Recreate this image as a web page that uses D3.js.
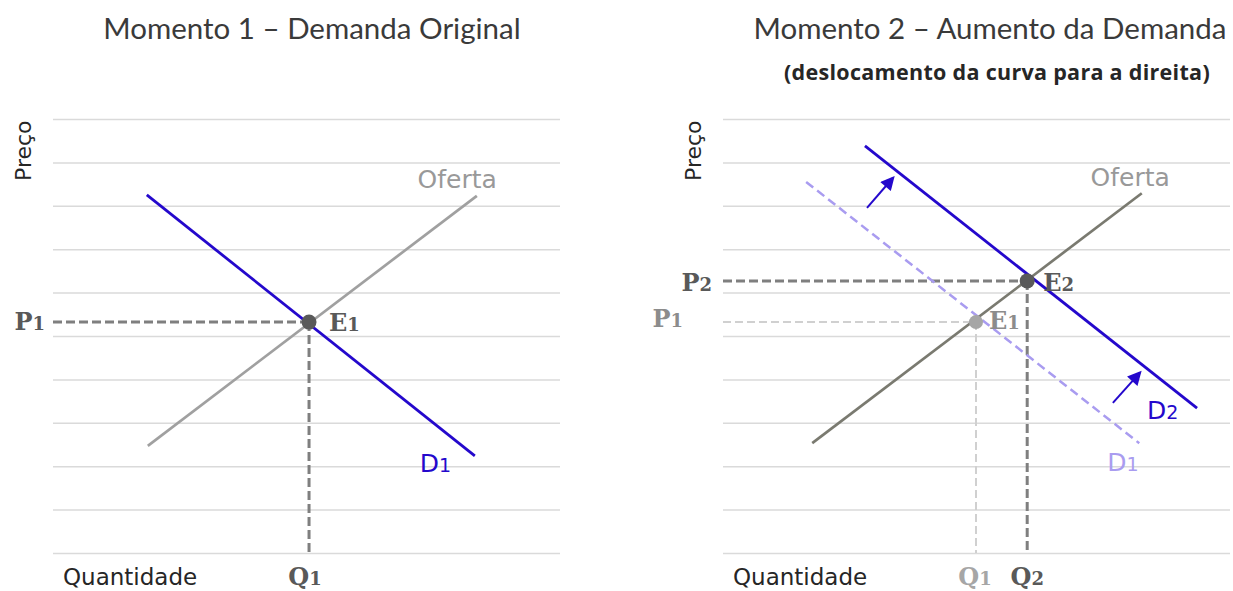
<!DOCTYPE html>
<html>
<head>
<meta charset="utf-8">
<script src="https://cdn.jsdelivr.net/npm/d3@7"></script>
<style>
  body { margin: 0; background: #fff; }
</style>
</head>
<body>
<div id="chart"></div>
<script>
// price gridlines (data units)
const priceGrid = [0, 1, 2, 3, 4, 5, 6, 7, 8, 9, 10];

// Momento 1
const demand1 = [[1.85, 8.25], [8.32, 2.24]];
const supply1 = [[1.87, 2.47], [8.36, 8.23]];
const eq1 = [5.05, 5.32];

// Momento 2
const demand2New = [[2.80, 9.38], [9.35, 3.34]];
const demand2Old = [[1.64, 8.55], [8.21, 2.53]];
const supply2 = [[1.76, 2.53], [8.26, 8.29]];
const eq2New = [6.00, 6.27];
const eq2Old = [4.99, 5.32];
const shiftArrows = [
    [[2.84, 7.95], [3.35, 8.64]],
    [[7.69, 3.46], [8.22, 4.15]]
];

const titles = ["Momento 1 \u2013 Demanda Original", "Momento 2 \u2013 Aumento da Demanda"];
const subtitle = "(deslocamento da curva para a direita)";

const blue = "#2408cc";
const darkDash = "#7f7f7f";
const lightDash = "#d0d0d0";

const svg = d3.select("#chart").append("svg")
    .attr("width", 1233)
    .attr("height", 591)
    .style("font-family", "'DejaVu Sans', Verdana, sans-serif");

const defs = svg.append("defs");
defs.append("marker")
    .attr("id", "arrow")
    .attr("viewBox", "0 0 10 10")
    .attr("refX", 8).attr("refY", 5)
    .attr("markerWidth", 7.5).attr("markerHeight", 7)
    .attr("markerUnits", "strokeWidth")
    .attr("orient", "auto")
    .append("path")
    .attr("d", "M0,0 L10,5 L0,10 z")
    .attr("fill", blue);

// Scales
const y = d3.scaleLinear().domain([0, 10]).range([553, 119]);
const xLeft = d3.scaleLinear().domain([0, 10]).range([53, 560]);
const xRight = d3.scaleLinear().domain([0, 10]).range([723, 1230]);

function grid(x) {
    const [x0, x1] = x.range();
    svg.append("g")
        .attr("transform", `translate(${x0},0)`)
        .call(d3.axisLeft(y).tickValues(priceGrid).tickSize(-(x1 - x0)).tickFormat(""))
        .call(g => g.select(".domain").remove())
        .call(g => g.selectAll(".tick line").attr("stroke", "#dadada").attr("stroke-width", 1.5));
}

function curve(x, pts, color, width, dash) {
    const line = d3.line().x(d => x(d[0])).y(d => y(d[1]));
    svg.append("path")
        .datum(pts)
        .attr("d", line)
        .attr("fill", "none")
        .attr("stroke", color)
        .attr("stroke-width", width)
        .attr("stroke-dasharray", dash || null);
}

// bold serif label with small old-style numeral
function subLabel(px, py, letter, num, color, anchor) {
    const t = svg.append("text")
        .attr("x", px).attr("y", py)
        .attr("text-anchor", anchor || "start")
        .style("font-family", "'DejaVu Serif', Georgia, serif")
        .style("font-weight", "bold")
        .style("font-size", "24px")
        .attr("fill", color);
    t.append("tspan").text(letter);
    t.append("tspan").style("font-size", "18px").text(num);
}

function curveLabel(px, py, num, color) {
    svg.append("text")
        .attr("x", px).attr("y", py)
        .style("font-size", "25px")
        .attr("fill", color)
        .text("D")
        .append("tspan").style("font-size", "19px").text(num);
}

function guides(x, eq, color, width, dash) {
    const line = d3.line().x(d => x(d[0])).y(d => y(d[1]));
    svg.append("path")
        .datum([[0, eq[1]], eq])
        .attr("d", line)
        .attr("fill", "none").attr("stroke", color)
        .attr("stroke-width", width).attr("stroke-dasharray", dash);
    svg.append("path")
        .datum([eq, [eq[0], 0]])
        .attr("d", line)
        .attr("fill", "none").attr("stroke", color)
        .attr("stroke-width", width).attr("stroke-dasharray", dash);
}

function axisNames(x) {
    svg.append("text")
        .attr("transform", `translate(${x.range()[0] - 22},${y(9.27)}) rotate(-90)`)
        .attr("text-anchor", "middle")
        .style("font-size", "22px")
        .attr("fill", "#262626")
        .text("Preço");
    svg.append("text")
        .attr("x", x.range()[0] + 10)
        .attr("y", 585)
        .style("font-size", "23px")
        .attr("fill", "#262626")
        .text("Quantidade");
}

function title(px, py, txt) {
    svg.append("text")
        .attr("x", px).attr("y", py)
        .attr("text-anchor", "middle")
        .style("font-family", "Lato, 'Open Sans', sans-serif")
        .style("font-size", "29.5px")
        .attr("fill", "#3a3a3a")
        .text(txt);
}

// ---------- Momento 1 ----------
grid(xLeft);
axisNames(xLeft);
title(312, 39, titles[0]);

guides(xLeft, eq1, darkDash, 3, "9,4");
curve(xLeft, supply1, "#a0a0a0", 2.7);
curve(xLeft, demand1, blue, 2.8);

svg.append("circle")
    .attr("cx", xLeft(eq1[0])).attr("cy", y(eq1[1]))
    .attr("r", 7.5).attr("fill", "#595959");

subLabel(xLeft(eq1[0]) + 20, y(eq1[1]) + 9, "E", "1", "#595959");
subLabel(xLeft(0) - 8, y(eq1[1]) + 8, "P", "1", "#595959", "end");
subLabel(xLeft(eq1[0]) - 4, 585, "Q", "1", "#595959", "middle");

svg.append("text")
    .attr("x", xLeft(supply1[1][0]) + 20).attr("y", y(supply1[1][1]) - 8)
    .attr("text-anchor", "end")
    .style("font-size", "25px")
    .attr("fill", "#999")
    .text("Oferta");

curveLabel(xLeft(demand1[1][0]) - 55, y(demand1[1][1]) + 16, "1", blue);

// ---------- Momento 2 ----------
grid(xRight);
axisNames(xRight);
title(990, 39, titles[1]);

svg.append("text")
    .attr("x", 997).attr("y", 80)
    .attr("text-anchor", "middle")
    .style("font-family", "'Open Sans', Lato, sans-serif")
    .style("font-weight", "bold")
    .style("font-size", "21.5px")
    .style("letter-spacing", "0.3px")
    .attr("fill", "#262626")
    .text(subtitle);

guides(xRight, eq2Old, lightDash, 2, "8,4");
guides(xRight, eq2New, darkDash, 3, "9,4");
curve(xRight, demand2Old, "#a99cf0", 2.5, "9,5");
curve(xRight, supply2, "#7a7a70", 2.7);
curve(xRight, demand2New, blue, 2.8);

svg.append("circle")
    .attr("cx", xRight(eq2Old[0])).attr("cy", y(eq2Old[1]))
    .attr("r", 7).attr("fill", "#a6a6a6");
svg.append("circle")
    .attr("cx", xRight(eq2New[0])).attr("cy", y(eq2New[1]))
    .attr("r", 7.5).attr("fill", "#595959");

// shift arrows
svg.selectAll(".shift")
    .data(shiftArrows)
    .enter()
    .append("path")
    .attr("class", "shift")
    .attr("d", d3.line().x(d => xRight(d[0])).y(d => y(d[1])))
    .attr("stroke", blue)
    .attr("stroke-width", 2)
    .attr("fill", "none")
    .attr("marker-end", "url(#arrow)");

subLabel(xRight(eq2New[0]) + 16, y(eq2New[1]) + 10, "E", "2", "#595959");
subLabel(xRight(eq2Old[0]) + 13, y(eq2Old[1]) + 7, "E", "1", "#8c8c8c");
subLabel(xRight(0) - 11, y(eq2New[1]) + 10, "P", "2", "#595959", "end");
subLabel(xRight(0) - 40, y(eq2Old[1]) + 5, "P", "1", "#8c8c8c", "end");
subLabel(xRight(eq2Old[0]) - 1, 585, "Q", "1", "#a6a6a6", "middle");
subLabel(xRight(eq2New[0]), 585, "Q", "2", "#595959", "middle");

svg.append("text")
    .attr("x", xRight(supply2[1][0]) + 28).attr("y", y(supply2[1][1]) - 7)
    .attr("text-anchor", "end")
    .style("font-size", "25px")
    .attr("fill", "#999")
    .text("Oferta");

curveLabel(xRight(demand2New[1][0]) - 50, y(demand2New[1][1]) + 11, "2", blue);
curveLabel(xRight(demand2Old[1][0]) - 32, y(demand2Old[1][1]) + 28, "1", "#a99cf0");
</script>
</body>
</html>
